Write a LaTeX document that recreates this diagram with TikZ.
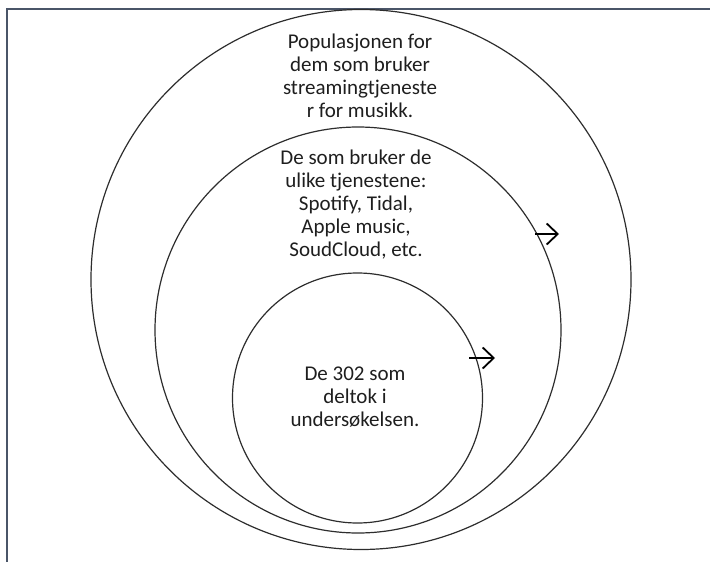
\documentclass[tikz,border=0pt]{standalone}
\usepackage{fontspec}
\setmainfont{Carlito}
\usetikzlibrary{arrows.meta}
\definecolor{framecol}{RGB}{74,85,104}
\definecolor{ringcol}{RGB}{45,45,45}
\definecolor{textcol}{RGB}{30,30,30}
\tikzset{
  ring/.style={draw=ringcol, line width=1.2pt, circle, inner sep=0pt},
  label/.style={align=center, inner sep=0pt, text=textcol,
                font=\fontsize{21}{23}\selectfont},
  pointer/.style={draw=black, line width=1.8pt,
                  -{Straight Barb[length=11pt, width=21pt, line width=1.8pt]}}
}
\begin{document}
\begin{tikzpicture}[x=1pt, y=-1pt]
  \useasboundingbox (0,0) rectangle (710,562);
  % page frame (top and left edges)
  \draw[framecol, line width=2pt] (7,562) -- (7,8.5) -- (710,8.5);
  % nested populations
  \node[ring, minimum size=540pt] (outer) at (361,279.5) {};
  \node[ring, minimum size=406pt] (middle) at (358,330) {};
  \node[ring, minimum size=250pt] (inner) at (357.5,398) {};
  % descriptions
  \node[label] (toutre) at (360,76) {Populasjonen for\\dem som bruker\\streamingtjeneste\\r for musikk.};
  \node[label] (tmidt) at (356,205) {De som bruker de\\ulike tjenestene:\\Spotify, Tidal,\\Apple music,\\SoudCloud, etc.};
  \node[label] (tindre) at (355,397.5) {De 302 som\\deltok i\\undersøkelsen.};
  % pointers
  \coordinate (a1s) at (535,234);
  \coordinate (a1e) at (559,234);
  \coordinate (a2s) at (469,358);
  \coordinate (a2e) at (495,358);
  \draw[pointer] (a1s) -- (a1e);
  \draw[pointer] (a2s) -- (a2e);
\end{tikzpicture}
\end{document}
